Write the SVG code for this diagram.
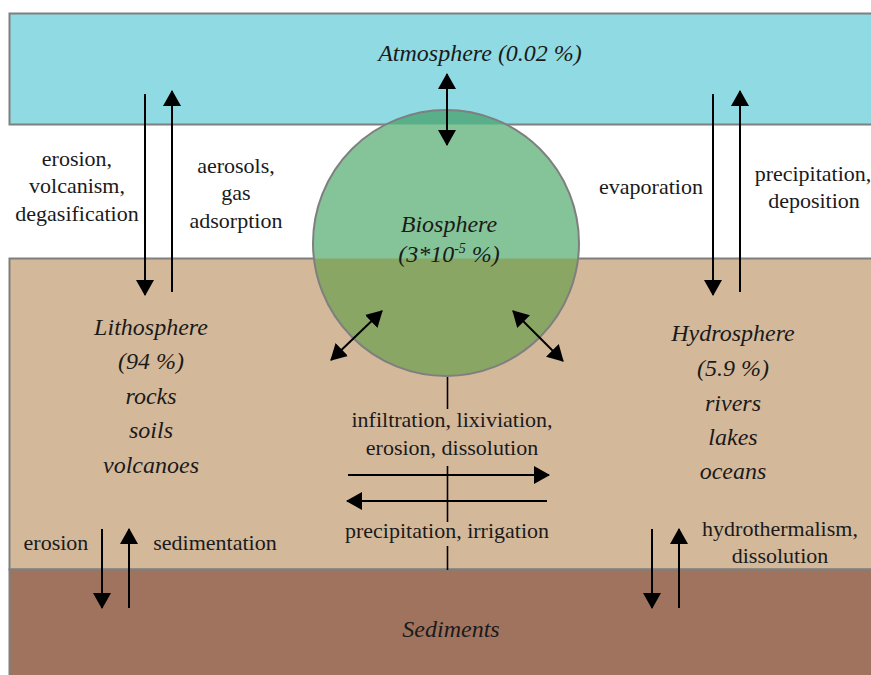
<svg xmlns="http://www.w3.org/2000/svg" width="871" height="675" viewBox="0 0 871 675">
<style>
text{font-family:'Liberation Serif','DejaVu Serif','Times New Roman',serif}
.t{font-size:22px;fill:#1a1a1a;text-anchor:middle}
.i{font-size:24px;font-style:italic;fill:#1a1a1a;text-anchor:middle}
.band{stroke:#7f7f7f;stroke-width:2}
.a{stroke:#000;stroke-width:2;fill:none;marker-end:url(#ah)}
.d{stroke:#000;stroke-width:2;fill:none;marker-end:url(#ah);marker-start:url(#ah)}
.l{stroke:#000;stroke-width:1.6;fill:none}
</style>
<defs>
<marker id="ah" viewBox="0 0 16 18" refX="15" refY="9" markerWidth="16" markerHeight="18" markerUnits="userSpaceOnUse" orient="auto-start-reverse">
<path d="M0,0 L16,9 L0,18 Z" fill="#000"/>
</marker>
<clipPath id="cc"><circle cx="446" cy="243" r="133"/></clipPath>
</defs>
<rect width="871" height="675" fill="#fff"/>
<g id="atmosphere">
<rect class="band" x="9.5" y="13.5" width="880" height="111" fill="#8fdae3"/>
<text class="i" x="480" y="61" font-family="Liberation Serif, serif">Atmosphere (0.02 %)</text>
</g>
<g id="lithosphere-band">
<rect class="band" x="9.5" y="258.5" width="880" height="311" fill="#d4b89a"/>
</g>
<g id="sediments">
<rect class="band" x="9.5" y="569.5" width="880" height="120" fill="#a0735e"/>
<text class="i" x="451" y="637">Sediments</text>
</g>
<g id="biosphere">
<circle cx="446" cy="243" r="133" fill="#85c498"/>
<g clip-path="url(#cc)">
<rect x="300" y="100" width="300" height="24.5" fill="#59af8a"/>
<rect x="300" y="258.5" width="300" height="130" fill="#8aa664"/>
</g>
<circle cx="446" cy="243" r="133" fill="none" stroke="#7f7f7f" stroke-width="2"/>
<text class="i" x="449" y="232">Biosphere</text>
<text class="i" x="449" y="262">(3*10<tspan font-size="14" dy="-9">-5</tspan><tspan dy="9"> %)</tspan></text>
</g>
<g id="lithosphere">
<text class="i" x="151" y="335">Lithosphere</text>
<text class="i" x="151" y="369">(94 %)</text>
<text class="i" x="151" y="404">rocks</text>
<text class="i" x="151" y="438">soils</text>
<text class="i" x="151" y="473">volcanoes</text>
</g>
<g id="hydrosphere">
<text class="i" x="733" y="341">Hydrosphere</text>
<text class="i" x="733" y="376">(5.9 %)</text>
<text class="i" x="733" y="411">rivers</text>
<text class="i" x="733" y="445">lakes</text>
<text class="i" x="733" y="479">oceans</text>
</g>
<g id="labels">
<text class="t" x="77" y="166">erosion,</text>
<text class="t" x="77" y="193">volcanism,</text>
<text class="t" x="77" y="221">degasification</text>
<text class="t" x="236" y="173">aerosols,</text>
<text class="t" x="236" y="200">gas</text>
<text class="t" x="236" y="228">adsorption</text>
<text class="t" x="651" y="194">evaporation</text>
<text class="t" x="813" y="181">precipitation,</text>
<text class="t" x="814" y="208">deposition</text>
<text class="t" x="452" y="427">infiltration, lixiviation,</text>
<text class="t" x="452" y="455">erosion, dissolution</text>
<text class="t" x="447" y="538">precipitation, irrigation</text>
<text class="t" x="56" y="550">erosion</text>
<text class="t" x="215" y="550">sedimentation</text>
<text class="t" x="780" y="536">hydrothermalism,</text>
<text class="t" x="780" y="563">dissolution</text>
</g>
<g id="connectors">
<line class="a" x1="145" y1="94" x2="145" y2="295"/>
<line class="a" x1="172" y1="292" x2="172" y2="91"/>
<line class="d" x1="447" y1="74" x2="447" y2="145"/>
<line class="a" x1="713" y1="94" x2="713" y2="295"/>
<line class="a" x1="740" y1="292" x2="740" y2="91"/>
<line class="d" x1="331" y1="360" x2="382" y2="311"/>
<line class="d" x1="513" y1="311" x2="563" y2="361"/>
<line class="l" x1="447.5" y1="377" x2="447.5" y2="409"/>
<line class="l" x1="447.5" y1="466" x2="447.5" y2="522"/>
<line class="l" x1="447.5" y1="546" x2="447.5" y2="570"/>
<line class="a" x1="348" y1="475" x2="549" y2="475"/>
<line class="a" x1="547" y1="501" x2="347" y2="501"/>
<line class="a" x1="102" y1="529" x2="102" y2="608"/>
<line class="a" x1="129" y1="608" x2="129" y2="529"/>
<line class="a" x1="652" y1="529" x2="652" y2="608"/>
<line class="a" x1="679" y1="608" x2="679" y2="529"/>
</g>
</svg>
